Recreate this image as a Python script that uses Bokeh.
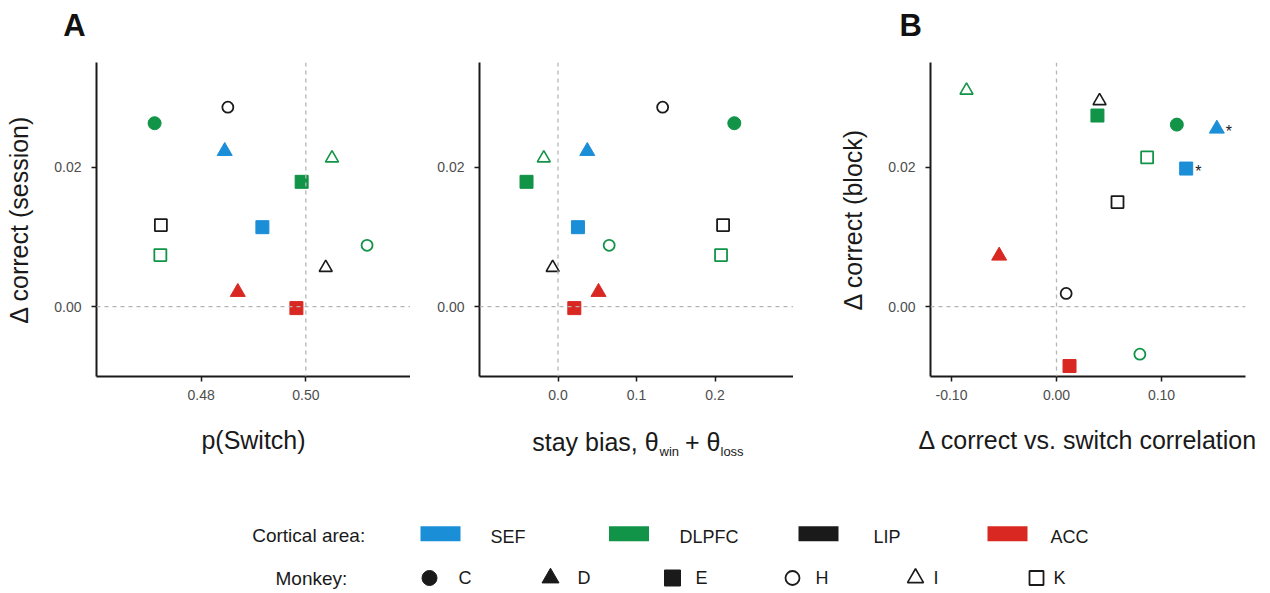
from bokeh.plotting import figure
from bokeh.models import ColumnDataSource, Range1d, FixedTicker, NumeralTickFormatter, Span
from bokeh.layouts import row, column
from bokeh.embed import file_html
from bokeh.resources import INLINE
from bokeh.core.properties import value

# ---------------- data ----------------
area = ["DLPFC", "LIP", "SEF", "DLPFC", "DLPFC", "LIP", "SEF", "DLPFC", "DLPFC", "LIP", "ACC", "ACC"]
monkey = ["C", "H", "D", "I", "E", "K", "E", "K", "H", "I", "D", "E"]
p_switch = [0.4711, 0.4851, 0.4845, 0.5050, 0.4992, 0.4723, 0.4917, 0.4722, 0.5117, 0.5038, 0.4870, 0.4982]
delta_correct_session = [0.0263, 0.0286, 0.0223, 0.0213, 0.0179, 0.0117, 0.0114, 0.0074, 0.0088, 0.0056, 0.0021, -0.0002]
stay_bias = [0.2246, 0.1333, 0.0373, -0.0181, -0.0401, 0.2103, 0.0254, 0.2077, 0.0652, -0.0068, 0.0516, 0.0208]
corr_delta_switch = [0.1146, 0.0092, 0.1527, -0.0857, 0.0390, 0.0581, 0.1235, 0.0863, 0.0794, 0.0410, -0.0546, 0.0124]
delta_correct_block = [0.0261, 0.0019, 0.0255, 0.0310, 0.0274, 0.0150, 0.0198, 0.0214, -0.0068, 0.0295, 0.0073, -0.0085]
significant = [False, False, True, False, False, False, True, False, False, False, False, False]

area_names = ["SEF", "DLPFC", "LIP", "ACC"]
monkey_names = ["C", "D", "E", "H", "I", "K"]
xticks_switch = [0.48, 0.50]
xticks_bias = [0.0, 0.1, 0.2]
xticks_corr = [-0.10, 0.00, 0.10]
yticks = [0.00, 0.02]
ref_x = [0.50, 0.0, 0.0]
ref_y = [0.0, 0.0, 0.0]
panel_letters = ["A", "B"]

# ---------------- styles ----------------
FONT = "Liberation Sans"
TXT = "#1a1a1a"
area_color = {"SEF": "#1b8ed8", "DLPFC": "#119447", "LIP": "#1a1a1a", "ACC": "#d92822"}
m_marker = {"C": "circle", "D": "triangle", "E": "square", "H": "circle", "I": "triangle", "K": "square"}
m_fill = {"C": 1.0, "D": 1.0, "E": 1.0, "H": 0.0, "I": 0.0, "K": 0.0}
m_size = {"C": 13, "D": 15, "E": 13, "H": 11, "I": 13, "K": 12}
m_lw = {"C": 1.0, "D": 1.0, "E": 1.0, "H": 1.8, "I": 1.6, "K": 1.8}
leg_size = {"C": 15, "D": 17, "E": 16, "H": 14, "I": 16, "K": 14}

TOP_H = 50          # height of the strip holding the panel letters
PANEL_TOP = 12      # so that frames start 62 px from the top


def pixel_fig(w, h, x0=0, x1=None, bl=0, br=0):
    f = figure(width=w, height=h, x_range=Range1d(x0, x1 if x1 is not None else w),
               y_range=Range1d(h, 0), toolbar_location=None, output_backend="svg",
               min_border=0, min_border_left=bl, min_border_right=br)
    f.axis.visible = False
    f.xgrid.grid_line_color = None
    f.ygrid.grid_line_color = None
    f.outline_line_color = None
    return f


def style_axes(p, xlabel, ylabel):
    for ax in (p.xaxis[0], p.yaxis[0]):
        ax.axis_line_width = 2
        ax.axis_line_color = TXT
        ax.major_tick_line_color = TXT
        ax.major_tick_line_width = 1.5
        ax.major_tick_out = 5
        ax.major_tick_in = 0
        ax.minor_tick_line_color = None
        ax.major_label_text_font = FONT
        ax.major_label_text_font_size = "14px"
        ax.major_label_text_color = "#4d4d4d"
        ax.axis_label_text_font = FONT
        ax.axis_label_text_font_size = "25px"
        ax.axis_label_text_font_style = "normal"
        ax.axis_label_text_color = TXT
    p.xaxis.major_label_standoff = 8
    p.yaxis.major_label_standoff = 10
    p.xaxis.axis_label_standoff = 23
    p.yaxis.axis_label_standoff = 18
    p.xaxis.axis_label = xlabel
    p.yaxis.axis_label = ylabel


def make_panel(xs, ys, xr, xticks, xfmt, xlabel, ylabel, width, height, bl, br, bb, rx, ry):
    p = figure(width=width, height=height, x_range=Range1d(*xr), y_range=Range1d(-0.01, 0.035),
               toolbar_location=None, output_backend="svg",
               min_border_left=bl, min_border_right=br, min_border_top=PANEL_TOP,
               min_border_bottom=bb)
    p.outline_line_color = None
    p.xgrid.grid_line_color = None
    p.ygrid.grid_line_color = None
    p.xaxis.ticker = FixedTicker(ticks=xticks)
    p.xaxis.formatter = NumeralTickFormatter(format=xfmt)
    p.yaxis.ticker = FixedTicker(ticks=yticks)
    p.yaxis.formatter = NumeralTickFormatter(format="0.00")
    style_axes(p, xlabel, ylabel)
    for loc, dim in ((rx, "height"), (ry, "width")):
        p.add_layout(Span(location=loc, dimension=dim, line_color="#b5b5b5",
                          line_dash="4 4", line_width=1.3))
    src = ColumnDataSource(dict(
        x=xs, y=ys,
        color=[area_color[a] for a in area],
        marker=[m_marker[m] for m in monkey],
        size=[m_size[m] for m in monkey],
        fa=[m_fill[m] for m in monkey],
        lw=[m_lw[m] for m in monkey],
    ))
    p.scatter("x", "y", source=src, marker="marker", size="size", fill_color="color",
              line_color="color", fill_alpha="fa", line_width="lw")
    return p


H_FULL = PANEL_TOP + 314 + 94
p1 = make_panel(p_switch, delta_correct_session, (0.46, 0.52), xticks_switch, "0.00",
                "p(Switch)", "\u0394 correct (session)", 410, H_FULL, 96, 0, 94, ref_x[0], ref_y[0])
p2 = make_panel(stay_bias, delta_correct_session, (-0.1, 0.3), xticks_bias, "0.0",
                None, None, 383, H_FULL - 50, 69, 0, 44, ref_x[1], ref_y[1])
p3 = make_panel(corr_delta_switch, delta_correct_block, (-0.12, 0.18), xticks_corr, "0.00",
                "\u0394 correct vs. switch correlation", "\u0394 correct (block)", 477, H_FULL, 137, 25, 94,
                ref_x[2], ref_y[2])

# significance stars
sig_x = [x for x, s in zip(corr_delta_switch, significant) if s]
sig_y = [y for y, s in zip(delta_correct_block, significant) if s]
p3.text(x=sig_x, y=sig_y, text=["*"] * len(sig_x), x_offset=9, y_offset=3,
        text_font=value(FONT), text_font_size=value("16px"), text_color=TXT,
        text_baseline="middle", text_align="left")

# composite x label for panel 2 (with subscripts); x in page pixels of the frame (479..793)
lab2 = pixel_fig(383, 50, x0=479, x1=793, bl=69, br=0)
lab2.text(x=[531.7, 684.5], y=[21.5, 21.5], text=["stay bias, \u03b8", "+ \u03b8"],
          text_font=value(FONT), text_font_size=value("25px"), text_color=TXT,
          text_baseline="middle", text_align="left")
lab2.text(x=[659, 720], y=[30.5, 30.5], text=["win", "loss"],
          text_font=value(FONT), text_font_size=value("13px"), text_color=TXT,
          text_baseline="middle", text_align="left")

# panel letters strip
top = pixel_fig(1270, TOP_H)
top.text(x=[62.7, 899], y=[25, 25], text=panel_letters,
         text_font=value(FONT), text_font_size=value("31px"), text_font_style="bold",
         text_color="#111111", text_baseline="middle", text_align="left")

# ---------------- legend ----------------
leg = pixel_fig(1270, 123)
rect_cx = [440, 628.5, 818, 1007]
area_lbl_x = [490, 679, 873, 1050]
mk_cx = [429, 550, 672, 792, 915, 1036]
mk_lbl_x = [458, 577, 695, 815, 933, 1053]

leg.text(x=[251.7, 275], y=[65, 108.2], text=["Cortical area:", "Monkey:"],
         text_font=value(FONT), text_font_size=value("19px"), text_color=TXT,
         text_baseline="middle", text_align="left")
leg.rect(x=rect_cx, y=[63.3] * 4, width=40, height=15,
         fill_color=[area_color[a] for a in area_names], line_color=None)
leg.text(x=area_lbl_x, y=[66] * 4, text=area_names,
         text_font=value(FONT), text_font_size=value("18px"), text_color=TXT,
         text_baseline="middle", text_align="left")
leg_src = ColumnDataSource(dict(
    x=mk_cx, y=[107.5] * 6,
    marker=[m_marker[m] for m in monkey_names],
    size=[leg_size[m] for m in monkey_names],
    fa=[m_fill[m] for m in monkey_names],
    lw=[m_lw[m] for m in monkey_names],
))
leg.scatter("x", "y", source=leg_src, marker="marker", size="size", fill_color=TXT,
            line_color=TXT, fill_alpha="fa", line_width="lw")
leg.text(x=mk_lbl_x, y=[107.5] * 6, text=monkey_names,
         text_font=value(FONT), text_font_size=value("18px"), text_color=TXT,
         text_baseline="middle", text_align="left")

layout = column(top, row(p1, column(p2, lab2), p3), leg)
open("out.html", "w").write(file_html(layout, INLINE, "chart"))
